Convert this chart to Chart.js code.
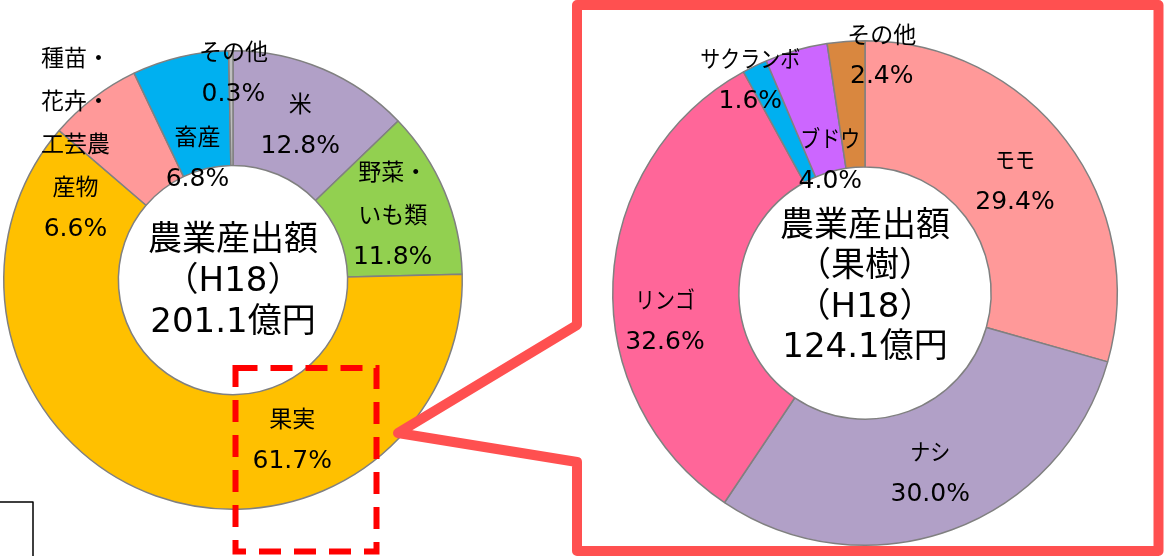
<!DOCTYPE html>
<html>
<head>
<meta charset="utf-8">
<script src="https://cdn.jsdelivr.net/npm/chart.js@4.4.0/dist/chart.umd.min.js"></script>
<style>
  html, body { margin: 0; padding: 0; background: #fff; }
  #wrap { position: relative; width: 1168px; height: 556px; overflow: hidden; }
  #wrap canvas { position: absolute; left: 0; top: 0; }
</style>
</head>
<body>
<div id="wrap">
  <canvas id="leftChart" width="1168" height="556"></canvas>
  <canvas id="rightChart" width="1168" height="556"></canvas>
</div>
<script>
// 農業産出額 (H18) - all products
const leftLabels = [['米'], ['野菜・', 'いも類'], ['果実'], ['種苗・', '花卉・', '工芸農', '産物'], ['畜産'], ['その他']];
const leftValues = [12.8, 11.8, 61.7, 6.6, 6.8, 0.3];
const leftTitle = ['農業産出額', '（H18）', '201.1億円'];

// 農業産出額 (果樹, H18)
const rightLabels = [['モモ'], ['ナシ'], ['リンゴ'], ['サクランボ'], ['ブドウ'], ['その他']];
const rightValues = [29.4, 30.0, 32.6, 1.6, 4.0, 2.4];
const rightTitle = ['農業産出額', '（果樹）', '（H18）', '124.1億円'];

const leftColors = ['#B1A0C7', '#92D050', '#FFC000', '#FF9999', '#00B0F0', '#BFBFBF'];
const rightColors = ['#FF9999', '#B1A0C7', '#FF6699', '#00B0F0', '#CC66FF', '#D9873F'];

const NAME_FONT = '23px "Noto Sans CJK JP"';
const PCT_FONT = '25px "DejaVu Sans", "Noto Sans CJK JP"';
const TITLE_FONT = '34px "DejaVu Sans", "Noto Sans CJK JP"';
const LINE_H = 43;

// label nudges from the slice mid point (like moved labels in excel)
const leftShift = [[0, 3], [1, 1], [117, -2], [-53, 0], [4, 45], [2, -35]];
const rightShift = [[-1, 2], [0, 2], [-11, 36], [-32, -43], [17, 49], [31, -49]];

// katakana in the original font is narrower, squeeze those lines a bit
function isKana(t) {
    return /^[\u30A0-\u30FF]+$/.test(t);
}

function makeLabels(names, shifts, title, titleDy, titleGap) {
    return {
        id: 'sliceLabels',
        afterDatasetsDraw(chart) {
            const ctx = chart.ctx;
            const arcs = chart.getDatasetMeta(0).data;
            const values = chart.data.datasets[0].data;
            ctx.save();
            ctx.fillStyle = '#000';
            ctx.textAlign = 'center';
            ctx.textBaseline = 'middle';
            arcs.forEach((arc, i) => {
                const p = arc.tooltipPosition();
                const lines = names[i].concat([values[i].toFixed(1) + '%']);
                const top = p.y + shifts[i][1] - (lines.length - 1) * LINE_H / 2;
                lines.forEach((t, k) => {
                    ctx.font = k < lines.length - 1 ? NAME_FONT : PCT_FONT;
                    const x = p.x + shifts[i][0];
                    const y = top + k * LINE_H;
                    if (isKana(t)) {
                        ctx.save();
                        ctx.translate(x, y);
                        ctx.scale(0.87, 1);
                        ctx.fillText(t, 0, 0);
                        ctx.restore();
                    } else {
                        ctx.fillText(t, x, y);
                    }
                });
            });
            // text in the hole
            const cx = arcs[0].x, cy = arcs[0].y;
            ctx.font = TITLE_FONT;
            const t0 = cy + titleDy - (title.length - 1) * titleGap / 2;
            title.forEach((t, k) => ctx.fillText(t, cx, t0 + k * titleGap));
            ctx.restore();
        }
    };
}

const callout = {
    id: 'callout',
    afterDraw(chart) {
        const ctx = chart.ctx;
        ctx.save();
        // dashed box round 果実
        ctx.strokeStyle = '#FF0000';
        ctx.lineWidth = 6;
        ctx.setLineDash([22, 13]);
        ctx.strokeRect(235.5, 368, 141, 183.5);
        ctx.setLineDash([]);
        // zoom frame
        ctx.strokeStyle = '#FF5050';
        ctx.lineWidth = 10;
        ctx.lineJoin = 'round';
        ctx.beginPath();
        ctx.moveTo(577, 5);
        ctx.lineTo(1158.5, 5);
        ctx.lineTo(1158.5, 551);
        ctx.lineTo(577, 551);
        ctx.lineTo(577, 462);
        ctx.lineTo(398, 433);
        ctx.lineTo(577, 325);
        ctx.closePath();
        ctx.stroke();
        // little black corner at bottom left
        ctx.strokeStyle = '#000';
        ctx.lineWidth = 1.5;
        ctx.beginPath();
        ctx.moveTo(0, 502);
        ctx.lineTo(33, 502);
        ctx.lineTo(33, 560);
        ctx.stroke();
        ctx.restore();
    }
};

function baseOptions(padding) {
    return {
        responsive: false,
        animation: false,
        events: [],
        cutout: '50%',
        layout: { padding: padding },
        plugins: {
            legend: { display: false },
            tooltip: { enabled: false }
        }
    };
}

const leftChart = new Chart(document.getElementById('leftChart'), {
    type: 'doughnut',
    data: {
        labels: leftLabels.map(l => l.join('')),
        datasets: [{
            data: leftValues,
            backgroundColor: leftColors,
            borderColor: '#808080',
            borderWidth: 1.5
        }]
    },
    options: baseOptions({ left: 3, top: 50, right: 705, bottom: 46 }),
    plugins: [makeLabels(leftLabels, leftShift, leftTitle, 2, 41), callout]
});

const rightChart = new Chart(document.getElementById('rightChart'), {
    type: 'doughnut',
    data: {
        labels: rightLabels.map(l => l.join('')),
        datasets: [{
            data: rightValues,
            backgroundColor: rightColors,
            borderColor: '#808080',
            borderWidth: 1.5
        }]
    },
    options: baseOptions({ left: 612, top: 40, right: 50, bottom: 10 }),
    plugins: [makeLabels(rightLabels, rightShift, rightTitle, -5.5, 40.5)]
});
</script>
</body>
</html>
